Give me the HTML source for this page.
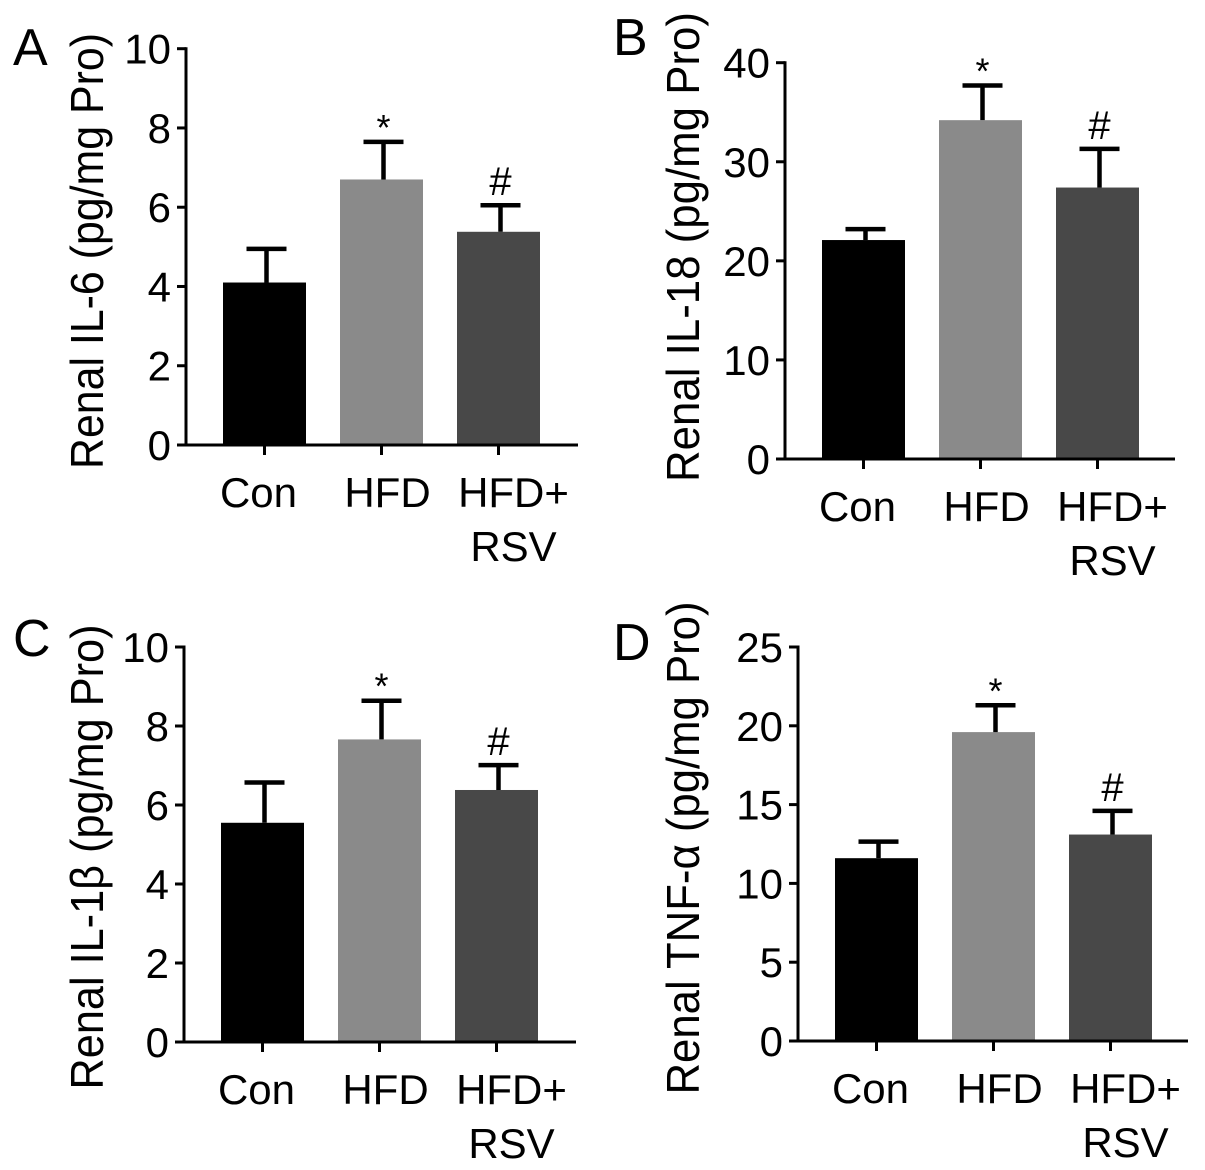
<!DOCTYPE html>
<html><head><meta charset="utf-8"><style>
html,body{margin:0;padding:0;background:#fff;}
svg{display:block;font-family:"Liberation Sans",Arial,sans-serif;}
</style></head><body>
<svg id="fig" width="1205" height="1170" viewBox="0 0 1205 1170" xmlns="http://www.w3.org/2000/svg"></svg>
<script>
const categories = ["Con", "HFD", "HFD+|RSV"];
const valuesA = [4.1, 6.7, 5.38];
const errorsA = [0.85, 0.95, 0.67];
const valuesB = [22.1, 34.2, 27.4];
const errorsB = [1.1, 3.5, 3.9];
const valuesC = [5.55, 7.66, 6.38];
const errorsC = [1.02, 0.98, 0.63];
const valuesD = [11.6, 19.6, 13.1];
const errorsD = [1.05, 1.7, 1.5];
const ticksA = [0, 2, 4, 6, 8, 10];
const ticksB = [0, 10, 20, 30, 40];
const ticksC = [0, 2, 4, 6, 8, 10];
const ticksD = [0, 5, 10, 15, 20, 25];
const marksA = ["", "*", "#"];
const marksB = ["", "*", "#"];
const marksC = ["", "*", "#"];
const marksD = ["", "*", "#"];

const NS = "http://www.w3.org/2000/svg";
const svg = document.getElementById("fig");
const colors = ["#000000", "#8a8a8a", "#484848"];
function mk(tag, attrs, parent, text) {
  const e = document.createElementNS(NS, tag);
  for (const k in attrs) e.setAttribute(k, attrs[k]);
  if (text !== undefined) e.textContent = text;
  parent.appendChild(e);
  return e;
}
function panel(cfg) {
  const g = mk("g", {}, svg);
  
  
  const ymax = cfg.ticks[cfg.ticks.length - 1];
  const yScale = v => cfg.y0 - (v / ymax) * (cfg.y0 - cfg.yTop);
  const step = 117;
  const xCenter = i => cfg.ax + 78.5 + i * step;
  const bw = 83;
  const lt = mk("text", {x: cfg.lx, y: cfg.ly, "font-size": 52}, g, cfg.letter);
  
  
  const tt = mk("text", {x: 0, y: 0, "font-size": 46, "text-anchor": "middle", textLength: cfg.tlen, lengthAdjust: "spacingAndGlyphs",
    transform: "translate(" + (cfg.tx + 16) + "," + cfg.ty + ") rotate(-90)"}, g, cfg.title);
  
  
  // bars
  cfg.values.forEach((v, i) => {
    const cx = xCenter(i);
    const top = yScale(v);
    const r = mk("rect", {x: cx - bw / 2, y: top, width: bw, height: cfg.y0 - top, fill: colors[i]}, g);
    
    
    const et = yScale(v + cfg.errors[i]);
    const el = mk("path", {d: "M" + (cx + 2) + " " + top + "V" + et + "M" + (cx - 18) + " " + et + "H" + (cx + 22), stroke: "#000", "stroke-width": 4.5, fill: "none"}, g);
    
    
    if (cfg.marks[i]) {
      const star = cfg.marks[i] === "*";
      const m = mk("text", {x: cx + 2, y: et - (star ? 2 : 10), "font-size": star ? 36 : 40, "text-anchor": "middle"}, g, cfg.marks[i]);
      
      
    }
    const tk = mk("line", {x1: cx, x2: cx, y1: cfg.y0, y2: cfg.y0 + 10, stroke: "#000", "stroke-width": 3}, g);
    
    
    const offs = [-6, 6, 15];
    const parts = categories[i].split("|");
    parts.forEach((p, j) => {
      const ct = mk("text", {x: cx + offs[i], y: cfg.y0 + 62 + j * 54, "font-size": 42, "text-anchor": "middle"}, g, p);
      
      
    });
  });
  // axes
  const ya = mk("line", {x1: cfg.ax, x2: cfg.ax, y1: cfg.yTop - 1.5, y2: cfg.y0 + 1.5, stroke: "#000", "stroke-width": 3}, g);
  
  
  const xa = mk("line", {x1: cfg.ax - 8, x2: cfg.axEnd, y1: cfg.y0, y2: cfg.y0, stroke: "#000", "stroke-width": 3}, g);
  
  
  cfg.ticks.forEach(t => {
    const y = yScale(t);
    const l = mk("line", {x1: cfg.ax - 9, x2: cfg.ax, y1: y, y2: y, stroke: "#000", "stroke-width": 3}, g);
    
    
    const tx = mk("text", {x: cfg.ax - 15, y: y + 15, "font-size": 42, "text-anchor": "end"}, g, String(t));
    
    
  });
}
panel({letter: "A", lx: 13, ly: 65, title: "Renal IL-6 (pg/mg Pro)", tx: 87, ty: 251, tlen: 436,
  ax: 186, y0: 445, yTop: 48.7, axEnd: 578, values: valuesA, errors: errorsA, ticks: ticksA, marks: marksA});
panel({letter: "B", lx: 613, ly: 55, title: "Renal IL-18 (pg/mg Pro)", tx: 683, ty: 247, tlen: 470,
  ax: 785, y0: 459, yTop: 62.7, axEnd: 1175, values: valuesB, errors: errorsB, ticks: ticksB, marks: marksB});
panel({letter: "C", lx: 13, ly: 656, title: "Renal IL-1β (pg/mg Pro)", tx: 87, ty: 857, tlen: 465,
  ax: 184, y0: 1042, yTop: 647, axEnd: 576, values: valuesC, errors: errorsC, ticks: ticksC, marks: marksC});
panel({letter: "D", lx: 613, ly: 660, title: "Renal TNF-α (pg/mg Pro)", tx: 683, ty: 848, tlen: 493,
  ax: 798, y0: 1041, yTop: 647, axEnd: 1188, values: valuesD, errors: errorsD, ticks: ticksD, marks: marksD});
</script>
</body></html>
